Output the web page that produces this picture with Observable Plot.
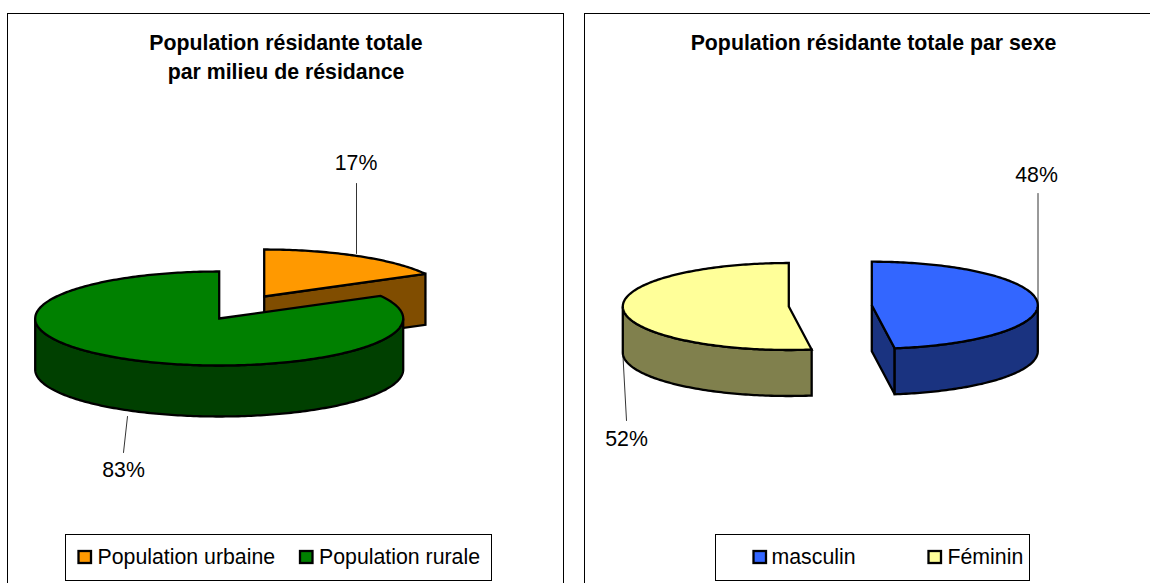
<!DOCTYPE html>
<html><head><meta charset="utf-8">
<script src="https://cdn.jsdelivr.net/npm/d3@7"></script>
<script src="https://cdn.jsdelivr.net/npm/@observablehq/plot@0.6"></script>
<style>html,body{margin:0;padding:0;background:#fff;overflow:hidden}svg{display:block}</style>
</head><body><div id="chart"></div>
<script>
// Data
const milieuNames = ["Population urbaine", "Population rurale"];
const milieuValues = [17, 83];
const sexeNames = ["masculin", "Féminin"];
const sexeValues = [47.8, 52.2];
const milieuTitle = ["Population résidante totale", "par milieu de résidance"];
const sexeTitle = ["Population résidante totale par sexe"];
const milieuColors = ["#FF9900", "#008000"];
const milieuDark = ["#804D00", "#004000"];
const sexeColors = ["#3366FF", "#FFFF99"];
const sexeDark = ["#1A3380", "#80804D"];

// Layout of the two 3D pies
const milieuPie = {rx: 184, ry: 47, depth: 51, centers: [[263.7, 296], [218.7, 318]]};
const sexePie = {rx: 166, ry: 43.5, depth: 46, centers: [[871.3, 304.7], [788.3, 306]]};

const rad = d => d * Math.PI / 180;
const pt = (p, c, a, dz = 0) => [c[0] + p.rx * Math.sin(rad(a)), c[1] - p.ry * Math.cos(rad(a)) + dz];
const arc = (p, c, a0, a1, dz = 0) => {
  const n = Math.max(2, Math.ceil(Math.abs(a1 - a0)));
  return d3.range(n + 1).map(i => pt(p, c, a0 + (a1 - a0) * i / n, dz));
};
// polygons of one pie, back to front
function pieShapes(values, pie, fills, darks, prefix) {
  const total = d3.sum(values);
  const ends = d3.cumsum(values).map(v => v / total * 360);
  const shapes = [];
  const add = (points, fill) => {
    const id = prefix + shapes.length;
    shapes.push(...points.map(([x, y]) => ({x, y, id, fill})));
  };
  const order = prefix === "m" ? [0, 1] : [1, 0];
  for (const i of order) {
    const c = pie.centers[i], a0 = i ? ends[i - 1] : 0, a1 = ends[i];
    const d = pie.depth;
    if (i === 0) {
      add([c, pt(pie, c, a1), pt(pie, c, a1, d), [c[0], c[1] + d]], darks[i]);
    }
    const w0 = Math.max(a0, 90), w1 = Math.min(a1, 270);
    if (w1 > w0) add([...arc(pie, c, w0, w1), ...arc(pie, c, w1, w0, d)], darks[i]);
    add([c, ...arc(pie, c, a0, a1)], fills[i]);
  }
  return shapes;
}
const shapes = [
  ...pieShapes(milieuValues, milieuPie, milieuColors, milieuDark, "m"),
  ...pieShapes(sexeValues, sexePie, sexeColors, sexeDark, "s")
];

const frames = [{x1: 7.5, x2: 563.5, y1: 13.5, y2: 600}, {x1: 584.5, x2: 1160, y1: 13.5, y2: 600}];
const legendBoxes = [{x1: 65.5, x2: 491.5, y1: 534.5, y2: 580.5}, {x1: 715.5, x2: 1029.5, y1: 534.5, y2: 580.5}];
const legendItems = [
  {name: milieuNames[0], fill: milieuColors[0], sx: 78.5, tx: 97},
  {name: milieuNames[1], fill: milieuColors[1], sx: 300, tx: 318.5},
  {name: sexeNames[0], fill: sexeColors[0], sx: 753.5, tx: 771},
  {name: sexeNames[1], fill: sexeColors[1], sx: 928.5, tx: 947}
];
const titles = [
  ...milieuTitle.map((t, i) => ({t, x: 285.5, y: 43 + i * 29})),
  ...sexeTitle.map(t => ({t, x: 873, y: 43}))
];
const leaders = [
  {id: 0, pts: [[356, 253], [356, 183]]},
  {id: 1, pts: [[127, 416], [123, 452]]},
  {id: 2, pts: [[1037.5, 304], [1037.5, 193]]},
  {id: 3, pts: [[622.5, 356], [626, 420]]}
].flatMap(l => l.pts.map(([x, y]) => ({x, y, id: l.id})));
const pct = v => Math.round(v) + "%";
const labels = [
  {t: pct(milieuValues[0]), x: 355.5, y: 163},
  {t: pct(milieuValues[1]), x: 123, y: 470},
  {t: pct(sexeValues[0]), x: 1036, y: 175},
  {t: pct(sexeValues[1]), x: 626, y: 439}
];
const font = "Liberation Sans, Arial, sans-serif";
const fs = 21.3;

const chart = Plot.plot({
  width: 1150, height: 583, margin: 0,
  x: {domain: [0, 1150], range: [0, 1150], axis: null},
  y: {domain: [0, 583], range: [0, 583], axis: null},
  style: {fontFamily: font, background: "#fff"},
  marks: [
    Plot.rect(frames, {x1: "x1", x2: "x2", y1: "y1", y2: "y2", fill: "#fff", stroke: "#000", strokeWidth: 1}),
    Plot.line(leaders, {x: "x", y: "y", z: "id", stroke: "#000", strokeWidth: 0.8}),
    Plot.line(shapes, {x: "x", y: "y", z: "id", fill: "fill", stroke: "#000", strokeWidth: 2.3, curve: "linear-closed", strokeLinejoin: "miter", strokeMiterlimit: 3}),
    Plot.text(titles, {x: "x", y: "y", text: "t", fontSize: fs, fontWeight: "bold", fill: "#000"}),
    Plot.text(labels, {x: "x", y: "y", text: "t", fontSize: fs, fill: "#000"}),
    Plot.rect(legendBoxes, {x1: "x1", x2: "x2", y1: "y1", y2: "y2", fill: "#fff", stroke: "#000", strokeWidth: 1}),
    Plot.rect(legendItems, {x1: "sx", x2: d => d.sx + 12.5, y1: 551, y2: 563, fill: "fill", stroke: "#000", strokeWidth: 2.3}),
    Plot.text(legendItems, {x: "tx", y: 557, text: "name", textAnchor: "start", fontSize: fs, fill: "#000"})
  ]
});
document.getElementById("chart").append(chart);
</script>
</body></html>
